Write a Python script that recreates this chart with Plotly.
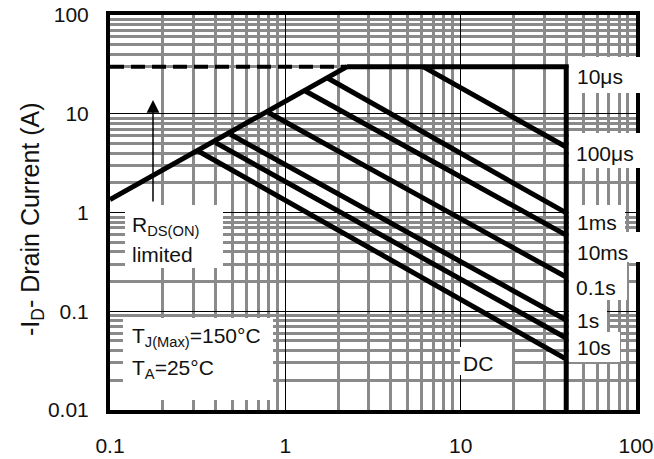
import plotly.graph_objects as go

# ---------------- data ----------------
rds_vds = [0.1, 2.25]          # RDS(ON) limit line
rds_id = [1.35, 30.0]
dash_vds = [0.1, 2.25]         # package / current limit (dashed)
dash_id = [30.0, 30.0]
env_vds = [2.25, 40.0, 40.0]   # current limit + VDS max envelope
env_id = [30.0, 30.0, 0.01]

pulse_labels = ["10μs", "100μs", "1ms", "10ms", "0.1s", "1s", "10s"]
pulse_start_vds = [6.1, 1.74, 1.30, 0.80, 0.485, 0.40, 0.318]
pulse_start_id = [30.0, 23.0, 17.0, 10.3, 6.2, 5.1, 4.2]
pulse_end_vds = [40.0, 40.0, 40.0, 40.0, 40.0, 40.0, 40.0]
pulse_end_id = [4.6, 0.99, 0.59, 0.222, 0.0815, 0.0536, 0.0328]

x_ticks = [0.1, 1, 10, 100]
x_ticktext = ["0.1", "1", "10", "100"]
y_ticks = [0.01, 0.1, 1, 10, 100]
y_ticktext = ["0.01", "0.1", "1", "10", "100"]
x_minor = [0.2, 0.3, 0.4, 0.5, 0.6, 0.7, 0.8, 0.9,
           2, 3, 4, 5, 6, 7, 8, 9,
           20, 30, 40, 50, 60, 70, 80, 90]
y_minor = [0.02, 0.03, 0.04, 0.05, 0.06, 0.07, 0.08, 0.09,
           0.2, 0.3, 0.4, 0.5, 0.6, 0.7, 0.8, 0.9,
           2, 3, 4, 5, 6, 7, 8, 9,
           30, 40, 50, 60, 70, 80, 90]

# ---------------- layout helpers (window pixel -> paper) ----------------
W, H = 654, 459
ML, MT = 110, 15
PW, PH = 526, 395
MR, MB = W - ML - PW, H - MT - PH


def px(x):
    return (x - ML) / PW


def py(y):
    return (MT + PH - y) / PH


FONT = "Liberation Sans, Arial, sans-serif"
INK = "#111111"

fig = go.Figure()

fig.add_trace(go.Scatter(x=dash_vds, y=dash_id, mode="lines",
                         line=dict(color="black", width=4, dash="14px,7px")))
fig.add_trace(go.Scatter(x=rds_vds, y=rds_id, mode="lines",
                         line=dict(color="black", width=5)))
fig.add_trace(go.Scatter(x=env_vds, y=env_id, mode="lines",
                         line=dict(color="black", width=5)))
for lab, x0, y0, x1, y1 in zip(pulse_labels, pulse_start_vds, pulse_start_id,
                               pulse_end_vds, pulse_end_id):
    fig.add_trace(go.Scatter(x=[x0, x1], y=[y0, y1], mode="lines", name=lab,
                             line=dict(color="black", width=5)))

# white label boxes (window-pixel rectangles)
boxes = [
    (125, 205, 223, 268),   # RDS(ON) limited
    (123, 318, 273, 400),   # TJ / TA
    (460, 347, 512, 375),   # DC
    (569, 57, 642, 93),     # 10us
    (569, 133, 642, 168),   # 100us
    (569, 205, 625, 232),   # 1ms
    (569, 232, 642, 262),   # 10ms
    (569, 262, 627, 300),   # 0.1s
    (569, 300, 607, 332),   # 1s
    (569, 332, 620, 362),   # 10s
]
for x0, y0, x1, y1 in boxes:
    fig.add_shape(type="rect", xref="paper", yref="paper",
                  x0=px(x0), x1=px(x1), y0=py(y1), y1=py(y0),
                  fillcolor="white", line=dict(width=0), layer="above")

# text labels: (text, left pixel, centre pixel)
labels = [
    ("10μs", 575, 77),
    ("100μs", 574, 153),
    ("1ms", 575, 222),
    ("10ms", 575, 252),
    ("0.1s", 574, 287),
    ("1s", 575, 320),
    ("10s", 575, 347),
    ("DC", 461, 363),
    ("R<sub>DS(ON)</sub>", 130, 226),
    ("limited", 130, 254),
    ("T<sub>J(Max)</sub>=150°C", 130, 337),
    ("T<sub>A</sub>=25°C", 130, 369),
]
for t, lx, ly in labels:
    fig.add_annotation(text=t, xref="paper", yref="paper", x=px(lx), y=py(ly),
                       xanchor="left", yanchor="middle", showarrow=False,
                       font=dict(family=FONT, size=21, color=INK))

# upward arrow
fig.add_annotation(text="", xref="paper", yref="paper", x=px(153), y=py(100),
                   ax=0, ay=103, showarrow=True, arrowhead=2, arrowsize=1.7,
                   arrowwidth=1.5, arrowcolor="black", standoff=0)

# y-axis title
fig.add_annotation(text="-I<sub>D</sub>- Drain Current (A)", xref="paper", yref="paper",
                   x=px(32), y=py(219), textangle=-90, showarrow=False,
                   xanchor="center", yanchor="middle",
                   font=dict(family=FONT, size=25, color=INK))

axis_common = dict(
    type="log", showgrid=True, gridcolor="black", gridwidth=1,
    showline=True, linewidth=4, linecolor="black", mirror=True,
    ticks="outside", tickcolor="rgba(0,0,0,0)", automargin=False,
    ticklabeloverflow="allow",
    tickfont=dict(family=FONT, size=21, color=INK), zeroline=False,
)
fig.update_xaxes(range=[-1, 2], tickmode="array", tickvals=x_ticks, ticktext=x_ticktext,
                 ticklen=14,
                 minor=dict(tickmode="array", tickvals=x_minor, showgrid=True,
                            gridcolor="#8a8a8a", gridwidth=3, ticks=""),
                 **axis_common)
fig.update_yaxes(range=[-2, 2], tickmode="array", tickvals=y_ticks, ticktext=y_ticktext,
                 ticklen=13,
                 minor=dict(tickmode="array", tickvals=y_minor, showgrid=True,
                            gridcolor="#8a8a8a", gridwidth=3, ticks=""),
                 **axis_common)

fig.update_layout(width=W, height=H, margin=dict(l=ML, r=MR, t=MT, b=MB),
                  paper_bgcolor="white", plot_bgcolor="white", showlegend=False,
                  hovermode=False,
                  font=dict(family=FONT, size=21, color=INK))

# remove the default 8px page margin so the figure fills the window exactly
fig.write_html("out.html",
               config={"displayModeBar": False, "staticPlot": True},
               post_script="document.body.style.margin='0';"
                           "document.body.style.overflow='hidden';")
